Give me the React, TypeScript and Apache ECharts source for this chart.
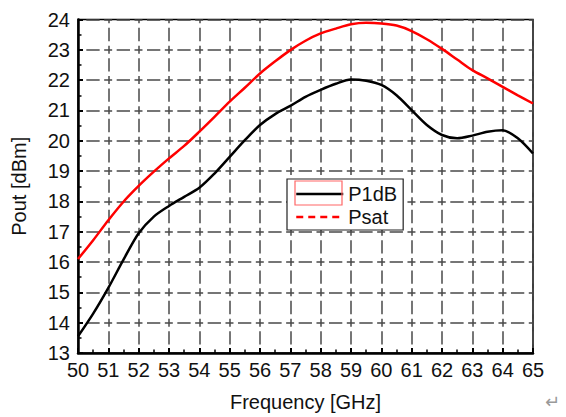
import React, { useEffect, useRef } from "react";
import * as echarts from "echarts";

const freq = [50, 50.5, 51, 51.5, 52, 52.5, 53, 53.5, 54, 54.5, 55, 55.5, 56, 56.5, 57, 57.5, 58, 58.5, 59, 59.5, 60, 60.5, 61, 61.5, 62, 62.5, 63, 63.5, 64, 64.5, 65];
const p1dB = [13.55, 14.3, 15.15, 16.08, 16.95, 17.5, 17.85, 18.15, 18.45, 18.92, 19.47, 20.02, 20.52, 20.88, 21.15, 21.45, 21.68, 21.88, 22.02, 21.98, 21.84, 21.5, 21.01, 20.52, 20.19, 20.08, 20.17, 20.3, 20.35, 20.08, 19.58];
const psat = [16.1, 16.72, 17.38, 17.99, 18.51, 18.98, 19.42, 19.83, 20.3, 20.79, 21.29, 21.75, 22.22, 22.62, 22.99, 23.3, 23.54, 23.7, 23.84, 23.89, 23.87, 23.8, 23.62, 23.35, 23.03, 22.68, 22.33, 22.06, 21.78, 21.5, 21.23];
const seriesNames = ["P1dB", "Psat"];
const xName = "Frequency [GHz]";
const yName = "Pout [dBm]";

const FONT = "'Liberation Sans', Arial, sans-serif";

export default function App() {
  const ref = useRef<HTMLDivElement>(null);
  useEffect(() => {
    if (!ref.current) return;
    const chart = echarts.init(ref.current, undefined, { renderer: "svg" });
    const gridDash = {
      type: [13.33, 4.5, 8, 4.5] as number[],
      dashOffset: 21.83,
      color: "#4a4a4a",
      width: 1.5,
    };
    const toPairs = (ys: number[]) => freq.map((f, i) => [f, ys[i]]);
    const txt = { fontSize: 20, color: "#111", fontFamily: FONT };
    chart.setOption({
      animation: false,
      backgroundColor: "#fff",
      textStyle: { fontFamily: FONT },
      grid: {
        left: 78,
        right: 33,
        top: 19.5,
        bottom: 63.7,
        show: true,
        borderColor: "#000",
        borderWidth: 1.5,
      },
      xAxis: {
        type: "value",
        min: 50,
        max: 65,
        interval: 1,
        name: xName,
        nameLocation: "middle",
        nameGap: 39,
        nameTextStyle: txt,
        axisLine: { show: true, lineStyle: { color: "#000", width: 2.5 } },
        axisTick: { show: true, inside: true, length: 5, lineStyle: { color: "#000", width: 2 } },
        minorTick: { show: true, splitNumber: 2, length: 3.5, lineStyle: { color: "#000", width: 1.5 } },
        axisLabel: { ...txt, margin: 7 },
        splitLine: { show: true, lineStyle: gridDash },
      },
      yAxis: {
        type: "value",
        min: 13,
        max: 24,
        interval: 1,
        name: yName,
        nameLocation: "middle",
        nameGap: 49,
        nameTextStyle: txt,
        axisLine: { show: true, lineStyle: { color: "#000", width: 2.5 } },
        axisTick: { show: true, inside: true, length: 5, lineStyle: { color: "#000", width: 2 } },
        minorTick: { show: true, splitNumber: 2, length: 3.5, lineStyle: { color: "#000", width: 1.5 } },
        axisLabel: { ...txt, margin: 8 },
        splitLine: { show: true, lineStyle: gridDash },
      },
      legend: {
        orient: "vertical",
        left: 287,
        top: 179,
        padding: [5, 6, 3, 8],
        borderColor: "#222",
        borderWidth: 1.2,
        backgroundColor: "#fff",
        itemWidth: 47,
        itemHeight: 18,
        itemGap: 3,
        itemStyle: { opacity: 0, borderWidth: 0 },
        textStyle: { ...txt, lineHeight: 20 },
        data: [
          { name: seriesNames[0], lineStyle: { width: 2.5 } },
          { name: seriesNames[1], lineStyle: { type: [7, 5], width: 2.5 } },
        ],
      },
      series: [
        {
          name: seriesNames[0],
          type: "line",
          data: toPairs(p1dB),
          smooth: 0.3,
          symbol: "none",
          lineStyle: { color: "#000", width: 2.5 },
          itemStyle: { color: "#000" },
        },
        {
          name: seriesNames[1],
          type: "line",
          data: toPairs(psat),
          smooth: 0.3,
          symbol: "none",
          lineStyle: { color: "#ff0000", width: 2.5 },
          itemStyle: { color: "#ff0000" },
        },
      ],
      graphic: [
        {
          type: "rect",
          shape: { x: 295, y: 181, width: 47, height: 24 },
          style: { fill: "none", stroke: "#ff6666", lineWidth: 1.2 },
          z: 100,
        },
        {
          type: "text",
          x: 545,
          y: 392,
          style: { text: "\u21b5", fontSize: 18, fill: "#999", fontFamily: "'DejaVu Sans', sans-serif" },
        },
      ],
    });
    return () => chart.dispose();
  }, []);
  return (
    <div
      ref={ref}
      style={{ position: "fixed", left: 0, top: 0, width: 566, height: 417, background: "#fff" }}
    />
  );
}
